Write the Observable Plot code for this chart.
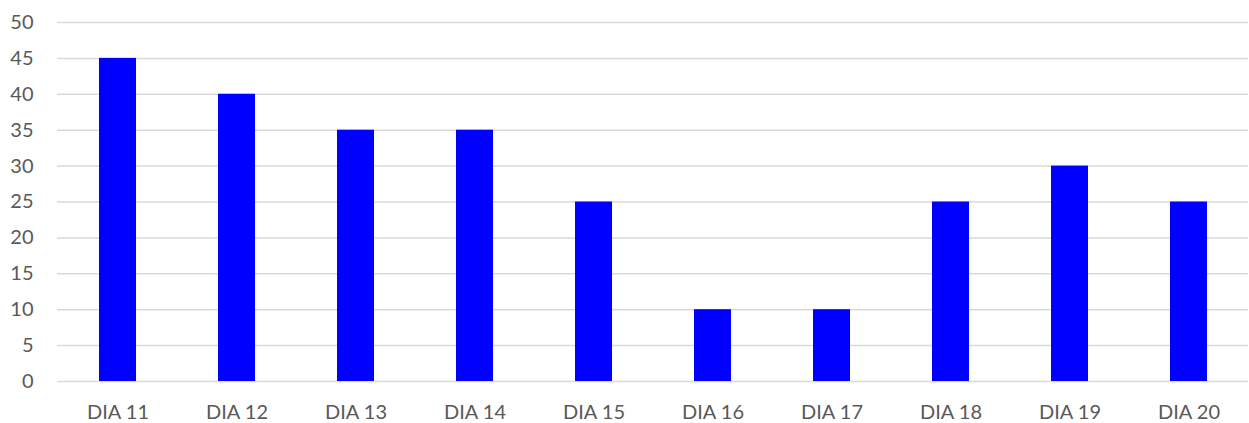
<!DOCTYPE html>
<html>
<head>
<meta charset="utf-8">
<script src="https://cdn.jsdelivr.net/npm/d3@7"></script>
<script src="https://cdn.jsdelivr.net/npm/@observablehq/plot@0.6"></script>
<style>
  html, body { margin: 0; padding: 0; background: #fff; }
  #chart svg { display: block; }
</style>
</head>
<body>
<div id="chart"></div>
<script>
const categories = ["DIA 11", "DIA 12", "DIA 13", "DIA 14", "DIA 15", "DIA 16", "DIA 17", "DIA 18", "DIA 19", "DIA 20"];
const values = [45, 40, 35, 35, 25, 10, 10, 25, 30, 25];
const yTicks = [0, 5, 10, 15, 20, 25, 30, 35, 40, 45, 50];

const data = categories.map((c, i) => ({category: c, value: values[i]}));

const chart = Plot.plot({
  width: 1249,
  height: 423,
  marginLeft: 57,
  marginRight: 1,
  marginTop: 22,
  marginBottom: 42,
  style: {fontFamily: "Lato, 'Open Sans', sans-serif", fontSize: "20px", color: "#595959", background: "#fff"},
  x: {domain: categories, paddingInner: 0.69, paddingOuter: 0.345, label: null, tickSize: 0, tickPadding: 23},
  y: {domain: [0, 50], ticks: yTicks, label: null, tickSize: 0, tickPadding: 24},
  marks: [
    Plot.gridY(yTicks, {stroke: "#d9d9d9", strokeOpacity: 1, strokeWidth: 1.5}),
    Plot.barY(data, {x: "category", y: "value", fill: "#0000ff"}),
    Plot.axisY({ticks: yTicks, tickSize: 0, tickPadding: 24, fill: "#595959", fontSize: 20}),
    Plot.axisX({tickSize: 0, tickPadding: 23, fill: "#595959", fontSize: 20})
  ]
});
document.getElementById("chart").appendChild(chart);
</script>
</body>
</html>
